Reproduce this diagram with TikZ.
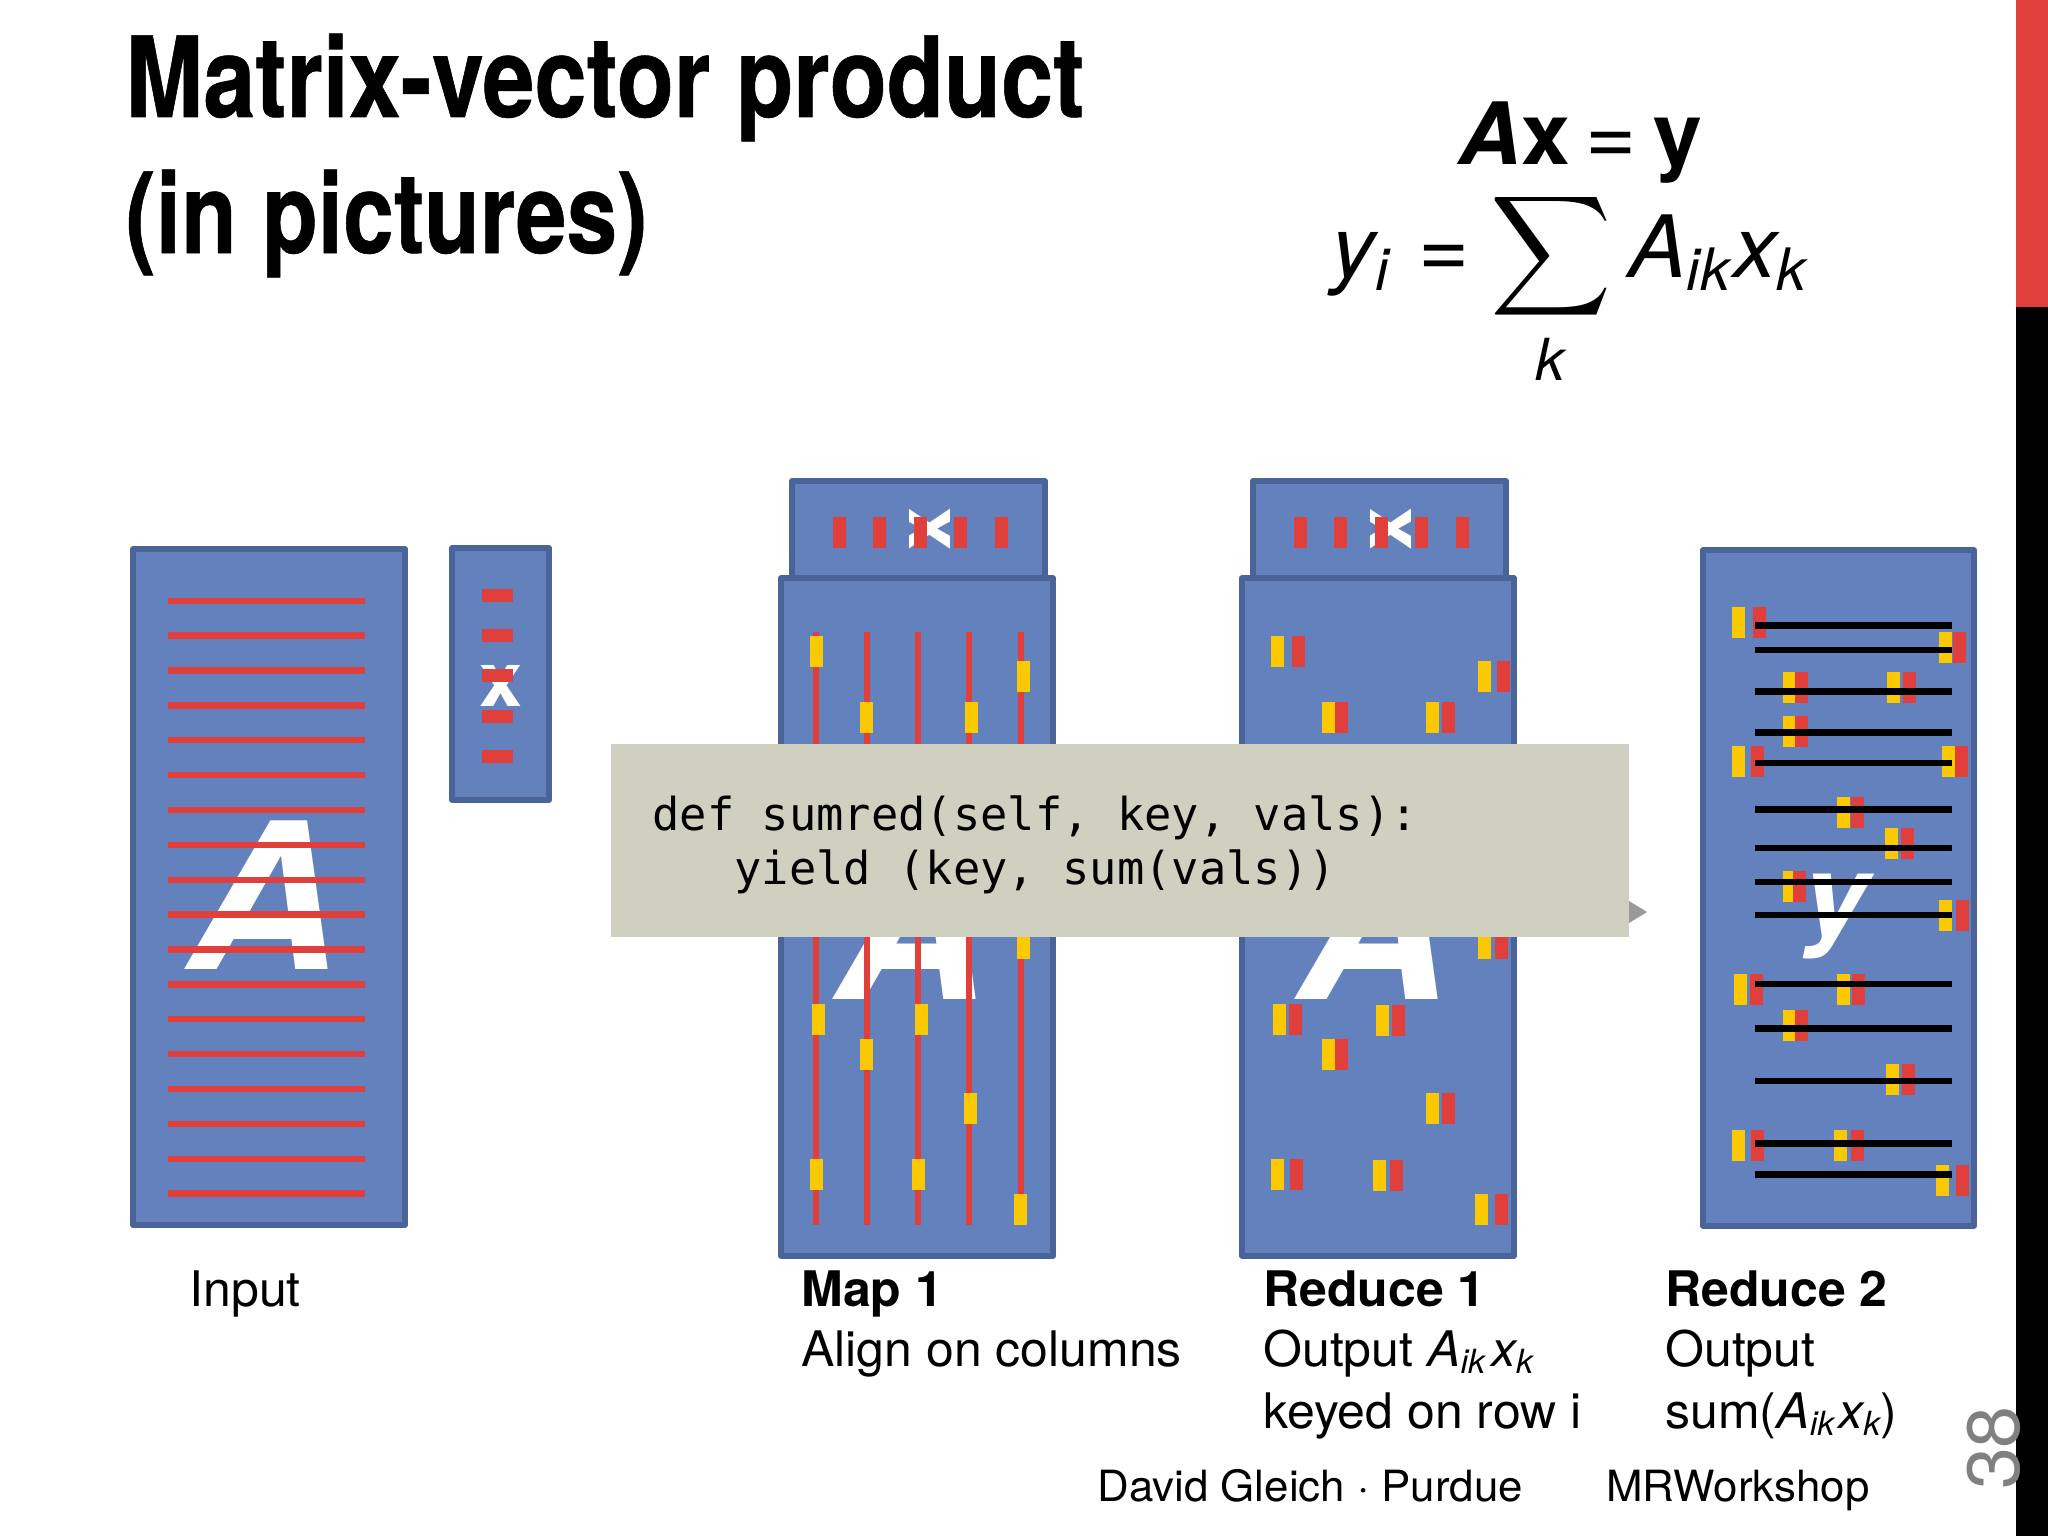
\documentclass[tikz,border=0pt]{standalone}
\usepackage{fontspec}
\usepackage{xcolor}
\setmainfont[FakeStretch=1.02]{TeX Gyre Heros}
\newfontfamily\titlefont[FakeStretch=0.835,FakeBold=0.5]{TeX Gyre Heros}
\newfontfamily\letterfont[FakeStretch=1.04]{TeX Gyre Heros}
\newfontfamily\codefont{DejaVu Sans Mono}
\definecolor{panelfill}{HTML}{6281BD}
\definecolor{paneledge}{HTML}{4A6499}
\definecolor{cellred}{HTML}{E03F3C}
\definecolor{cellyellow}{HTML}{FBC900}
\definecolor{codefill}{HTML}{CFD0C0}
\newcommand{\subidx}[1]{\raisebox{-.16em}{\scalebox{.68}{#1}}}
\newcommand{\fsize}[1]{\fontsize{#1}{#1}\selectfont}
\tikzset{
    panel/.style={draw=paneledge, fill=panelfill, line width=2.75pt, line join=round},
    bigletter/.style={text=white, inner sep=0pt, font=\letterfont\bfseries\itshape\fsize{#1}},
    smallletter/.style={text=white, inner sep=0pt, font=\bfseries\fsize{#1}},
    titletext/.style={anchor=base west, inner sep=0pt, font=\titlefont\bfseries\fsize{56}},
    labeltext/.style={anchor=base west, inner sep=0pt, font=\fsize{24.5}},
    labelhead/.style={labeltext, font=\bfseries\fsize{24.5}},
    eqtext/.style={anchor=base west, inner sep=0pt, font=\itshape\fsize{43}},
    footertext/.style={anchor=base west, inner sep=0pt, font=\fsize{21.5}},
}
\begin{document}
\begin{tikzpicture}[x=0.5pt, y=-0.5pt]
    \useasboundingbox (0,0) rectangle (2048,1536);

    % side bar
    \fill[black] (2016,0) rectangle (2048,1536);
    \fill[cellred] (2016,0) rectangle (2048,307);

    % title and formulas
    \node[titletext] (title1) at (125,117) {Matrix-vector product};
    \node[titletext, xscale=0.975, transform shape] (title2) at (125,253) {(in pictures)};
    \node[eqtext, font=\fsize{43}] (axy) at (1458,164)
        {{\bfseries\itshape A}{\bfseries x}\hspace{.17em}=\hspace{.2em}{\bfseries y}};
    \node[eqtext] (yi) at (1331,277) {y\subidx{i}};
    \node[eqtext, font=\fsize{43}] (eq) at (1418,277) {=};
    \node[inner sep=0pt] (sigma) at (1551,256) {\scalebox{4.2}{$\displaystyle\sum$}};
    \node[eqtext] (aik) at (1628,277) {A\subidx{ik}\kern1.5pt x\subidx{k}};
    \node[eqtext, font=\itshape\fsize{29}] (k) at (1535,380) {k};

    % input
    \draw[panel] (133,549) rectangle (405,1225);
    \draw[panel] (452,548) rectangle (549,800);
    \node[bigletter=102, anchor=base] (inputA) at (264,969) {A};
    \node[smallletter=38, anchor=base] (inputx) at (501,706) {x};
    \foreach \k in {0,...,17}
        \fill[cellred] (168,{597.6+34.87*\k}) rectangle (365,{604+34.87*\k});
    \foreach \cy in {589,629,669,710,750}
        \fill[cellred] (482,\cy) rectangle ++(31,13);

    % map 1
    \draw[panel] (792,481) rectangle (1045,580);
    \draw[panel] (781,578) rectangle (1053,1256);
    \node[smallletter=38, rotate=90] (mapx) at (930,529) {x};
    \node[bigletter=102, anchor=base] (mapA) at (912,999) {A};
    \foreach \cx in {833,873,914,954,995}
        \fill[cellred] (\cx,517) rectangle ++(13,31);
    \foreach \cx in {816,867,918,969,1021}
        \fill[cellred] (\cx-3,632) rectangle (\cx+3,1225);
    \foreach \cx/\cy in {810/636,1017/661,860/702,965/702,1017/928,812/1004,915/1004,
        860/1039,964/1093,810/1159,912/1159,1014/1194}
        \fill[cellyellow] (\cx,\cy) rectangle ++(13,31);

    % reduce 1
    \draw[panel] (1253,481) rectangle (1506,580);
    \draw[panel] (1242,578) rectangle (1514,1256);
    \node[smallletter=38, rotate=90] (redx) at (1391,529) {x};
    \node[bigletter=102, anchor=base] (redA) at (1374,999) {A};
    \foreach \cx in {1294,1334,1375,1415,1456}
        \fill[cellred] (\cx,517) rectangle ++(13,31);
    \foreach \yx/\rx/\cy in {1271/1292/636,1478/1497/661,1322/1335/702,1426/1442/702,
        1478/1495/928,1273/1289/1004,1376/1392/1005,1322/1335/1039,1426/1442/1093,
        1271/1290/1159,1373/1390/1160,1475/1495/1194}{
        \fill[cellred] (\rx,\cy) rectangle ++(13,31);
        \fill[cellyellow] (\yx,\cy) rectangle ++(13,31);
    }

    % reduce 2
    \draw[panel] (1703,550) rectangle (1974,1226);
    \node[bigletter=56, anchor=base] (outy) at (1836,934) {y};
    \foreach \yx/\rx/\cy in {1732/1753/607,1939/1953/632,1783/1795/672,1887/1903/672,
        1783/1795/716,1732/1751/746,1942/1955/746,1837/1851/797,1885/1901/828,
        1783/1793/871,1939/1956/900,1734/1750/974,1837/1852/974,1783/1795/1010,
        1886/1902/1064,1732/1751/1130,1834/1851/1130,1936/1956/1165}{
        \fill[cellyellow] (\yx,\cy) rectangle ++(13,31);
        \fill[cellred] (\rx,\cy) rectangle ++(13,31);
    }
    \foreach \cy in {625.5,650,691.5,732.5,763,809.5,848,882,915,984,1028.5,1081,1143.5,1174.5}
        \fill[black] (1755,\cy-3.2) rectangle (1952,\cy+3.2);

    % code box on top of the panels
    \fill[black!40] (1629,901) -- (1647,912) -- (1629,923) -- cycle;
    \fill[codefill] (611,744) rectangle (1629,937);
    \node[anchor=base west, inner sep=0pt, font=\codefont\fsize{22.7}] (code1) at (652,830.5)
        {def sumred(self, key, vals):};
    \node[anchor=base west, inner sep=0pt, font=\codefont\fsize{22.7}] (code2) at (734,884.5)
        {yield (key, sum(vals))};

    % captions
    \node[labeltext] (input) at (189,1306) {Input};
    \node[labelhead] (map1) at (801,1306) {Map 1};
    \node[labeltext] (map2) at (801,1366) {Align on columns};
    \node[labelhead] (red1) at (1263,1306) {Reduce 1};
    \node[labeltext] (red2) at (1263,1366) {Output \textit{A\subidx{ik}}\kern3pt\textit{x\subidx{k}}};
    \node[labeltext] (red3) at (1263,1428) {keyed on row i};
    \node[labelhead] (out1) at (1665,1306) {Reduce 2};
    \node[labeltext] (out2) at (1665,1366) {Output};
    \node[labeltext] (out3) at (1665,1428) {sum(\textit{A\subidx{ik}}\kern2pt\textit{x\subidx{k}})};

    % footer
    \node[footertext] (foot1) at (1097,1501) {David Gleich · Purdue};
    \node[footertext] (foot2) at (1606,1501) {MRWorkshop};
    \node[rotate=90, inner sep=0pt, text=black!50, font=\fsize{37}] (pagenum) at (1994,1448) {38};
\end{tikzpicture}
\end{document}
